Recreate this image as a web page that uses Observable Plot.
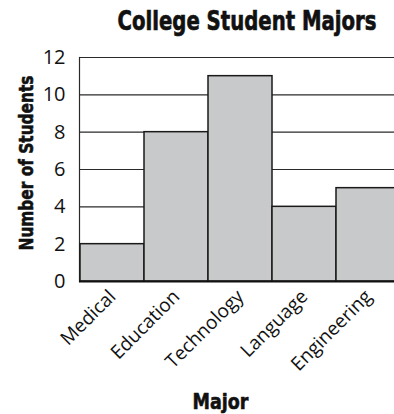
<!DOCTYPE html>
<html><head><meta charset="utf-8">
<script src="https://cdn.jsdelivr.net/npm/d3@7"></script>
<script src="https://cdn.jsdelivr.net/npm/@observablehq/plot@0.6"></script>
<style>
body{margin:0;background:#fff;}
#title{position:relative;width:394px;height:40px;overflow:hidden;}
#title span{position:absolute;left:247px;top:1px;white-space:nowrap;transform-origin:0 0;
 font-family:"DejaVu Sans",sans-serif;font-weight:bold;font-size:26px;line-height:40px;color:#111;
 -webkit-text-stroke:0.7px #111;}
#chart svg{display:block;}
</style></head><body>
<div id="title"><span>College Student Majors</span></div>
<div id="chart"></div>
<script>
const majors = ["Medical","Education","Technology","Language","Engineering"];
const students = [2,8,11,4,5];
const yTicks = [0,2,4,6,8,10,12];
const xLabel = "Major";
const yLabel = "Number of Students";
const data = majors.map((m,i)=>({major:m, count:students[i]}));
const bold = "'DejaVu Sans',sans-serif";
const chart = Plot.plot({
  width:394, height:374,
  marginLeft:79, marginRight:-7, marginTop:17, marginBottom:133,
  style:{fontFamily:"'Open Sans',sans-serif", background:"white", color:"#111"},
  x:{domain:majors, padding:0, axis:null},
  y:{domain:[0,12], axis:null},
  marks:[
    Plot.gridY(yTicks,{stroke:"#2a2a2a", strokeOpacity:1, strokeWidth:1.2}),
    Plot.frame({anchor:"left", stroke:"#2a2a2a", strokeWidth:1.2}),
    Plot.barY(data,{x:"major", y:"count", fill:"#c8c9cb", stroke:"#1a1a1a", strokeWidth:1.5, inset:0}),
    Plot.ruleY([0],{stroke:"#111", strokeWidth:2}),
    Plot.axisY({ticks:yTicks, tickSize:0, tickPadding:14, fontSize:20, label:null}),
    Plot.text(majors,{x:d=>d, frameAnchor:"bottom", lineAnchor:"middle", rotate:-45, textAnchor:"end", dx:0, dy:12, fontSize:19, fill:"#111"}),
    Plot.text([xLabel],{frameAnchor:"bottom", lineAnchor:"middle", textAnchor:"middle", dx:-20, dy:120.6, fontSize:21, fontWeight:"bold", fontFamily:bold, fill:"#111", stroke:"#111", strokeWidth:0.6}),
    Plot.text([yLabel],{frameAnchor:"left", lineAnchor:"middle", textAnchor:"middle", rotate:-90, dx:-53.4, dy:-6.5, fontSize:20, fontWeight:"bold", fontFamily:bold, fill:"#111", stroke:"#111", strokeWidth:0.6})
  ]
});
document.getElementById("chart").appendChild(chart);
// condense the bold labels to the reference's narrow typeface widths
d3.select(chart).selectAll("text").each(function(){
  const t = this.textContent;
  const target = t === yLabel ? 175 : t === xLabel ? 56 : null;
  if (target == null) return;
  const k = target / this.getComputedTextLength();
  const tr = this.getAttribute("transform") || "";
  this.setAttribute("transform", `${tr} scale(${k},1)`);
});
const span = document.querySelector("#title span");
const w = span.getBoundingClientRect().width;
span.style.transform = `scaleX(${259 / w}) translateX(-50%)`;
</script>
</body></html>
